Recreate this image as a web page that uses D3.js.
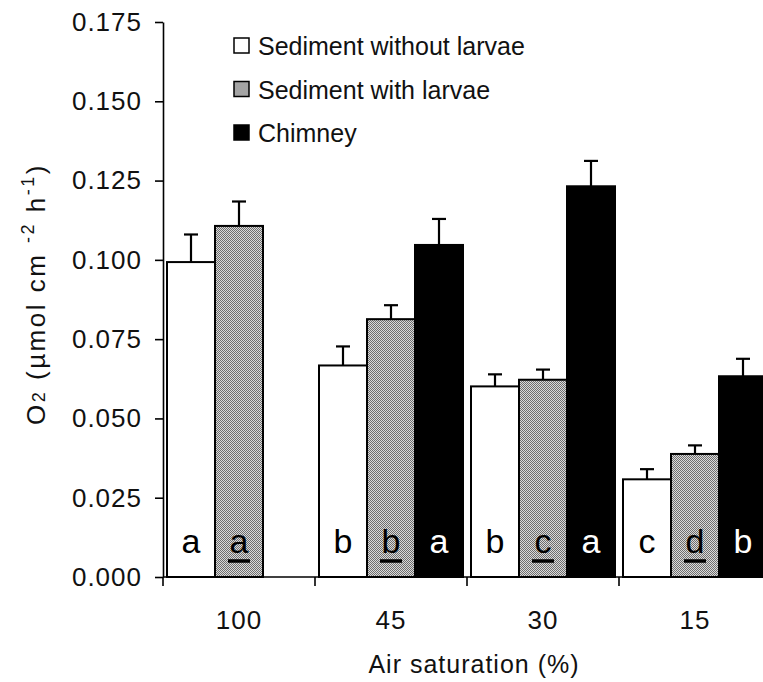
<!DOCTYPE html>
<html>
<head>
<meta charset="utf-8">
<script src="https://cdnjs.cloudflare.com/ajax/libs/d3/7.8.5/d3.min.js"></script>
<style>
  body { margin: 0; background: #fff; }
  svg { display: block; font-family: "Liberation Sans", Arial, sans-serif; }
</style>
</head>
<body>
<svg id="chart"></svg>
<script>
// air saturation groups and the three treatments
const groups = ["100", "45", "30", "15"];
const series = ["Sediment without larvae", "Sediment with larvae", "Chimney"];

const withoutLarvae = [0.0993, 0.0667, 0.0601, 0.0308];
const withoutLarvaeErr = [0.0087, 0.0060, 0.0038, 0.0032];
const withLarvae = [0.1107, 0.0813, 0.0622, 0.0388];
const withLarvaeErr = [0.0077, 0.0044, 0.0032, 0.0027];
const chimney = [null, 0.1047, 0.1232, 0.0633];
const chimneyErr = [null, 0.0082, 0.0080, 0.0055];

// significance letters
const lettersWithout = ["a", "b", "b", "c"];
const lettersWith = ["a", "b", "c", "d"];
const lettersChimney = [null, "a", "a", "b"];

const yTicks = [0, 0.025, 0.05, 0.075, 0.1, 0.125, 0.15, 0.175];

const W = 763, H = 682;
const svg = d3.select("#chart").attr("width", W).attr("height", H);

// grey dithered fill
const defs = svg.append("defs");
const pat = defs.append("pattern").attr("id", "dots")
  .attr("width", 2).attr("height", 2).attr("patternUnits", "userSpaceOnUse");
pat.append("rect").attr("width", 2).attr("height", 2).attr("fill", "#dadada");
pat.append("rect").attr("width", 1).attr("height", 1).attr("fill", "#6e6e6e");
pat.append("rect").attr("x", 1).attr("y", 1).attr("width", 1).attr("height", 1).attr("fill", "#6e6e6e");

const fills = ["#fff", "url(#dots)", "#000"];
const letterColors = ["#000", "#000", "#fff"];

const x0 = 163, yBase = 577, yTop = 22;
const groupW = 152;

const x = d3.scaleBand().domain(groups).range([x0, x0 + groupW * groups.length]);
const xs = d3.scaleBand().domain([0, 1, 2]).range([4, 4 + 144]);
const y = d3.scaleLinear().domain([0, 0.175]).range([yBase, yTop]);

// build rows from the arrays
const vals = [withoutLarvae, withLarvae, chimney];
const errs = [withoutLarvaeErr, withLarvaeErr, chimneyErr];
const lets = [lettersWithout, lettersWith, lettersChimney];
const rows = [];
groups.forEach((g, gi) => {
  vals.forEach((arr, si) => {
    if (arr[gi] == null) return;
    rows.push({ g: g, s: si, v: arr[gi], e: errs[si][gi], l: lets[si][gi] });
  });
});

// error bars (upward only)
const eb = svg.append("g").attr("stroke", "#000").attr("stroke-width", 2.2);
rows.forEach(d => {
  const cx = x(d.g) + xs(d.s) + xs.bandwidth() / 2;
  eb.append("line").attr("x1", cx).attr("x2", cx).attr("y1", y(d.v)).attr("y2", y(d.v + d.e));
  eb.append("line").attr("x1", cx - 7).attr("x2", cx + 7).attr("y1", y(d.v + d.e)).attr("y2", y(d.v + d.e));
});

// bars
svg.append("g").selectAll("rect").data(rows).join("rect")
  .attr("x", d => x(d.g) + xs(d.s))
  .attr("y", d => y(d.v))
  .attr("width", xs.bandwidth())
  .attr("height", d => yBase - y(d.v))
  .attr("fill", d => fills[d.s])
  .attr("stroke", "#000")
  .attr("stroke-width", 2);

// letters
const lg = svg.append("g").attr("font-size", 34).attr("text-anchor", "middle");
rows.forEach(d => {
  const cx = x(d.g) + xs(d.s) + xs.bandwidth() / 2;
  lg.append("text").attr("x", cx).attr("y", yBase - 24)
    .attr("fill", letterColors[d.s]).text(d.l);
  if (d.s === 1) {
    lg.append("line").attr("x1", cx - 11).attr("x2", cx + 11)
      .attr("y1", yBase - 16).attr("y2", yBase - 16)
      .attr("stroke", "#000").attr("stroke-width", 3.5);
  }
});

// y axis
const yAxis = svg.append("g").attr("transform", `translate(${x0},0)`)
  .call(d3.axisLeft(y).tickValues(yTicks).tickFormat(d3.format(".3f")).tickSize(8).tickSizeOuter(0).tickPadding(13));
yAxis.select(".domain").attr("stroke-width", 1.6);
yAxis.selectAll(".tick line").attr("stroke-width", 1.6);
yAxis.selectAll("text").attr("font-size", 26).attr("letter-spacing", 1).attr("fill", "#111")
  .attr("font-family", "Liberation Sans, Arial, sans-serif");

// x axis
const xAxis = svg.append("g").attr("transform", `translate(0,${yBase})`)
  .call(d3.axisBottom(x).tickSize(0).tickPadding(34));
xAxis.select(".domain").attr("d", `M${x0},0H${W}`).attr("stroke-width", 1.6);
xAxis.selectAll("text").attr("font-size", 26).attr("letter-spacing", 1).attr("fill", "#111")
  .attr("font-family", "Liberation Sans, Arial, sans-serif");
xAxis.selectAll(".sep").data(groups).join("line").attr("class", "sep")
  .attr("x1", d => x(d)).attr("x2", d => x(d))
  .attr("y1", 0).attr("y2", 9).attr("stroke", "#000").attr("stroke-width", 1.6);

// axis titles
svg.append("text").attr("x", 474).attr("y", 673).attr("text-anchor", "middle")
  .attr("font-size", 25).attr("letter-spacing", 1).attr("fill", "#111").text("Air saturation (%)");

const yl = svg.append("text").attr("transform", "translate(45,294) rotate(-90)")
  .attr("text-anchor", "middle").attr("font-size", 26).attr("letter-spacing", 2.5).attr("fill", "#111");
yl.append("tspan").text("O");
yl.append("tspan").attr("font-size", 18).text("2");
yl.append("tspan").text(" (µmol cm ");
yl.append("tspan").attr("font-size", 18).attr("dy", -11).text("-2");
yl.append("tspan").attr("dy", 11).text(" h");
yl.append("tspan").attr("font-size", 18).attr("dy", -11).text("-1");
yl.append("tspan").attr("dy", 11).text(")");

// legend
const leg = svg.append("g").attr("transform", "translate(234,38)");
series.forEach((s, i) => {
  const row = leg.append("g").attr("transform", `translate(0,${i * 43.5})`);
  row.append("rect").attr("x", 0).attr("y", 0).attr("width", 15).attr("height", 15)
    .attr("fill", fills[i]).attr("stroke", "#000").attr("stroke-width", 1.5);
  row.append("text").attr("x", 24).attr("y", 17).attr("font-size", 25).attr("fill", "#111").text(s);
});
</script>
</body>
</html>
